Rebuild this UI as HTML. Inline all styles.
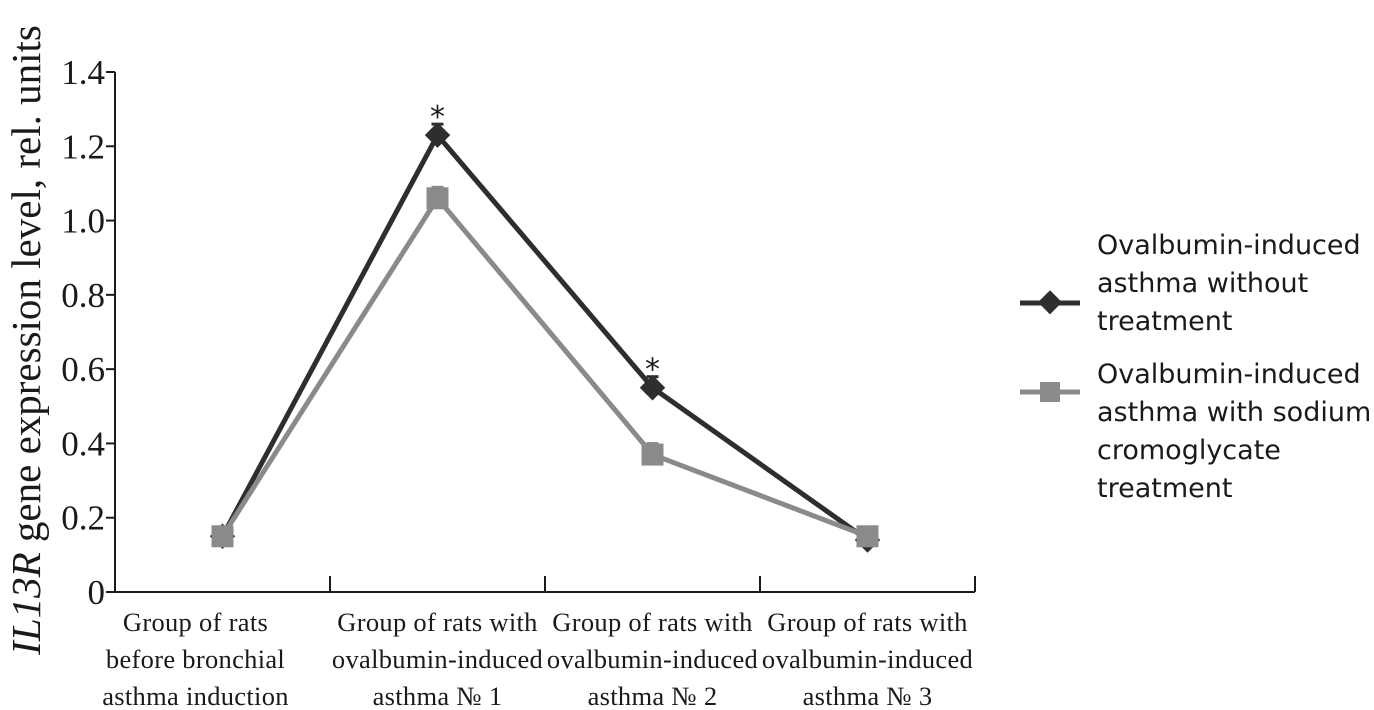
<!DOCTYPE html>
<html><head><meta charset="utf-8"><style>
html,body{margin:0;padding:0;background:#fff;}
svg{display:block;}
.tick{font-family:"Liberation Serif",serif;font-size:35px;fill:#1a1a1a;}
.cat{font-family:"Liberation Serif",serif;font-size:26.5px;fill:#1a1a1a;letter-spacing:0.3px;}
.leg{font-family:"DejaVu Sans","Liberation Sans",sans-serif;font-size:27px;fill:#1a1a1a;}
</style></head><body>
<svg id="chart" width="1374" height="710">
<g id="axes"></g><g id="series"></g>
<text transform="translate(40,340) rotate(-90)" text-anchor="middle" style="font-family:'Liberation Serif',serif;font-size:41px;fill:#1a1a1a"><tspan font-style="italic">IL13R</tspan> gene expression level, rel. units</text>
<g>
<g>
<line x1="1020" y1="303" x2="1080" y2="303" stroke="#2e2e2e" stroke-width="5"/>
<rect x="1041" y="294" width="17" height="17" fill="#2e2e2e" transform="rotate(45 1050 303)"/>
<text class="leg" x="1097" y="254">Ovalbumin-induced</text>
<text class="leg" x="1097" y="292">asthma without</text>
<text class="leg" x="1097" y="330">treatment</text>
</g>
<g>
<line x1="1020" y1="392" x2="1080" y2="392" stroke="#8a8a8a" stroke-width="5"/>
<rect x="1040" y="382" width="20" height="20" fill="#8a8a8a"/>
<text class="leg" x="1097" y="383">Ovalbumin-induced</text>
<text class="leg" x="1097" y="421">asthma with sodium</text>
<text class="leg" x="1097" y="459">cromoglycate</text>
<text class="leg" x="1097" y="497">treatment</text>
</g>
</g>
</svg>
<script>
const categories = [
 ["Group of rats","before bronchial","asthma induction"],
 ["Group of rats with","ovalbumin-induced","asthma № 1"],
 ["Group of rats with","ovalbumin-induced","asthma № 2"],
 ["Group of rats with","ovalbumin-induced","asthma № 3"]
];
const untreated = [0.15, 1.23, 0.55, 0.14];
const cromoglycate = [0.15, 1.06, 0.37, 0.15];
const significant = [false, true, true, false];
const hasErrorBar = [false, true, true, false];
const yTicks = [0, 0.2, 0.4, 0.6, 0.8, 1.0, 1.2, 1.4];
const yTickLabels = ["0","0.2","0.4","0.6","0.8","1.0","1.2","1.4"];

const NS="http://www.w3.org/2000/svg";
const x0=115,x1=975,y0=592,yTop=72,yMax=1.4;
const y=v=>y0-(v/yMax)*(y0-yTop);
const band=(x1-x0)/categories.length;
const xc=i=>x0+band*(i+0.5);
function mk(tag,attrs,parent){const e=document.createElementNS(NS,tag);for(const k in attrs)e.setAttribute(k,attrs[k]);parent.appendChild(e);return e;}
const axes=document.getElementById('axes'), ser=document.getElementById('series');
let a=mk('line',{x1:x0,y1:yTop,x2:x0,y2:y0,stroke:'#1a1a1a','stroke-width':2},axes);


a=mk('line',{x1:x0,y1:y0,x2:x1,y2:y0,stroke:'#1a1a1a','stroke-width':2},axes);


yTicks.forEach((v,i)=>{
 const t=mk('line',{x1:x0-9,y1:y(v),x2:x0,y2:y(v),stroke:'#1a1a1a','stroke-width':2},axes);
 
 
 const l=mk('text',{x:x0-10,y:y(v)+12,'text-anchor':'end',class:'tick'},axes);
 l.textContent=yTickLabels[i];
 
 
});
categories.forEach((c,i)=>{
 const xt=x0+band*(i+1);
 const t=mk('line',{x1:xt,y1:y0-16,x2:xt,y2:y0,stroke:'#1a1a1a','stroke-width':2},axes);
 
 
 const cx=xc(i)-(i===0?27:0);
 const l=mk('text',{x:cx,y:631,'text-anchor':'middle',class:'cat'},axes);
 
 
 c.forEach((s,j)=>{const ts=mk('tspan',{x:cx,dy:j?37:0},l);ts.textContent=s;});
});
function draw(vals,color,marker,name){
 const p=mk('polyline',{points:vals.map((v,i)=>xc(i)+','+y(v)).join(' '),fill:'none',stroke:color,'stroke-width':5,'stroke-linejoin':'round'},ser);
 
 
 vals.forEach((v,i)=>{
  const cx=xc(i),cy=y(v);
  if(hasErrorBar[i]){
   const e=mk('line',{x1:cx-6,y1:cy-11,x2:cx+6,y2:cy-11,stroke:color,'stroke-width':3},ser);
   
   
  }
  let m;
  if(marker==='diamond') m=mk('rect',{x:cx-9,y:cy-9,width:18,height:18,fill:color,transform:`rotate(45 ${cx} ${cy})`},ser);
  else m=mk('rect',{x:cx-11,y:cy-11,width:22,height:22,fill:color},ser);
  
  
 });
}
draw(untreated,'#2e2e2e','diamond','untreated');
draw(cromoglycate,'#8a8a8a','square','cromoglycate');
untreated.forEach((v,i)=>{
 if(!significant[i])return;
 const s=mk('text',{x:xc(i),y:y(v)-8,'text-anchor':'middle',style:'font-family:"DejaVu Sans",sans-serif;font-size:30px;fill:#1a1a1a'},ser);
 s.textContent='*';
 
 
});
</script>
</body></html>
